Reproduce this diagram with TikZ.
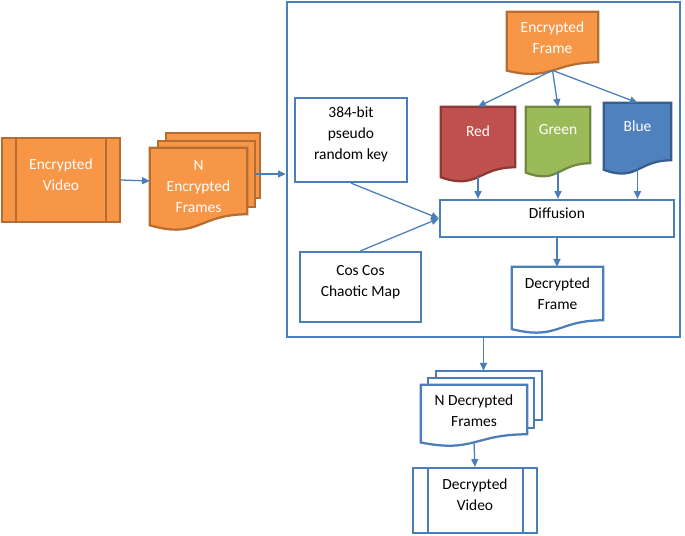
\documentclass[tikz,border=0pt]{standalone}
\usepackage{fontspec}
\setmainfont{Carlito}
\usetikzlibrary{arrows.meta,calc,fit,backgrounds}

\definecolor{lineblue}{RGB}{74,126,187}
\definecolor{boxorange}{RGB}{247,150,70}
\definecolor{edgeorange}{RGB}{182,109,49}
\definecolor{boxred}{RGB}{192,80,77}
\definecolor{edgered}{RGB}{140,56,54}
\definecolor{boxgreen}{RGB}{155,187,89}
\definecolor{edgegreen}{RGB}{113,137,63}
\definecolor{boxblue}{RGB}{79,129,189}
\definecolor{edgeblue}{RGB}{56,93,138}

% document outline round a node that holds its upper part
\newcommand{\docpath}[1]{(#1.north west) -- (#1.north east) -- (#1.south east)
  .. controls (#1.south) and ($(#1.north)!1.38!(#1.south)$)
  .. ($(#1.north west)!1.165!(#1.south west)$) -- cycle}

\begin{document}
\begin{tikzpicture}[x=0.025cm, y=-0.025cm,
  plain/.style={inner sep=0pt, align=center, font=\fontsize{11}{15}\selectfont},
  box/.style={plain, draw=lineblue, line width=1.6pt, fill=white},
  orangebox/.style={fill=boxorange, draw=edgeorange, line width=1.6pt},
  bluedoc/.style={fill=white, draw=lineblue, line width=1.6pt},
  arr/.style={draw=lineblue, line width=0.9pt, -{Triangle[length=5.5pt,width=5pt]}}]

  \useasboundingbox (0,0) rectangle (685,536);

  % Input side
  \node[plain, orangebox, text=white, align=left, fit={(2,138) (120,222)}] (ev) {Encrypted\\Video};
  \node[plain, fit={(166,133) (260,198)}] (nefb) {};
  \node[plain, fit={(158,141) (255,207)}] (nefa) {};
  \node[plain, fit={(150,148) (247,214)},
    label={[plain, text=white, yshift=-0.15cm]center:N\\Encrypted\\Frames}] (nef) {};

  % Decryption block
  \node[plain, draw=lineblue, line width=1.8pt, fit={(287,2) (680,337)}] (main) {};
  \node[plain, fit={(507,12) (598,62)},
    label={[plain, text=white, yshift=-0.025cm]center:Encrypted\\Frame}] (ef) {};
  \node[box, fit={(295,98) (407,182)}] (key) {384-bit\\pseudo\\random key};
  \node[plain, text=white, fit={(441,107) (515,167)}] (red) {Red};
  \node[plain, text=white, fit={(526,107) (590,163)}] (green) {Green};
  \node[plain, text=white, fit={(604,103) (671,160)}] (blue) {Blue};
  \node[box, fit={(440,200) (674,237)}] (diff) {Diffusion};
  \node[box, fit={(300,252) (421,322)}] (cos) {Cos Cos\\Chaotic Map};
  \node[plain, fit={(512,267) (603,320)},
    label={[plain]center:Decrypted\\Frame}] (df) {};

  % Output side
  \node[plain, fit={(436,371) (542,420)}] (ndfb) {};
  \node[plain, fit={(428,378) (534,428)}] (ndfa) {};
  \node[plain, fit={(421,385) (527,434)},
    label={[plain, yshift=-0.025cm]center:N Decrypted\\Frames}] (ndf) {};
  \node[box, fit={(413,468) (537,533)}] (dv) {Decrypted\\Video};

  % Shapes behind the texts
  \begin{scope}[on background layer]
    \draw[orangebox] (nefb.north west) rectangle (nefb.south east);
    \draw[orangebox] (nefa.north west) rectangle (nefa.south east);
    \draw[orangebox] \docpath{nef};
    \draw[orangebox] \docpath{ef};
    \draw[fill=boxred, draw=edgered, line width=1.6pt] \docpath{red};
    \draw[fill=boxgreen, draw=edgegreen, line width=1.6pt] \docpath{green};
    \draw[fill=boxblue, draw=edgeblue, line width=1.6pt] \docpath{blue};
    \draw[bluedoc] \docpath{df};
    \draw[bluedoc] (ndfb.north west) rectangle (ndfb.south east);
    \draw[bluedoc] (ndfa.north west) rectangle (ndfa.south east);
    \draw[bluedoc] \docpath{ndf};
  \end{scope}

  % Side bars of the video boxes
  \draw[edgeorange, line width=1.6pt] ($(ev.north west)+(15,0)$) -- ($(ev.south west)+(15,0)$);
  \draw[edgeorange, line width=1.6pt] ($(ev.north east)+(-15,0)$) -- ($(ev.south east)+(-15,0)$);
  \draw[lineblue, line width=1.6pt] ($(dv.north west)+(16,0)$) -- ($(dv.south west)+(16,0)$);
  \draw[lineblue, line width=1.6pt] ($(dv.north east)+(-15,0)$) -- ($(dv.south east)+(-15,0)$);

  % Arrows
  \coordinate (efb) at ($(ef.north)!1.16!(ef.south)$);
  \draw[arr] (ev.east) -- (nef.west);
  \draw[arr] (nefa.east) -- (nefa.east -| main.west);
  \draw[arr] (efb) -- (red.north);
  \draw[arr] (efb) -- (green.north);
  \draw[arr] (efb) -- (blue.north);
  \draw[arr] ($(red.north)!1.16!(red.south)$) -- (red.south |- diff.north);
  \draw[arr] ($(green.north)!1.16!(green.south)$) -- (green.south |- diff.north);
  \draw[arr] ($(blue.north)!1.16!(blue.south)$) -- (blue.south |- diff.north);
  \draw[arr] (key.south) -- (diff.west);
  \draw[arr] (cos.north) -- (diff.west);
  \draw[arr] (diff.south) -- (diff.south |- df.north);
  \draw[arr] (main.south) -- (main.south |- ndfb.north);
  \draw[arr] ($(ndf.north)!1.16!(ndf.south)$) -- (dv.north);

\end{tikzpicture}
\end{document}
